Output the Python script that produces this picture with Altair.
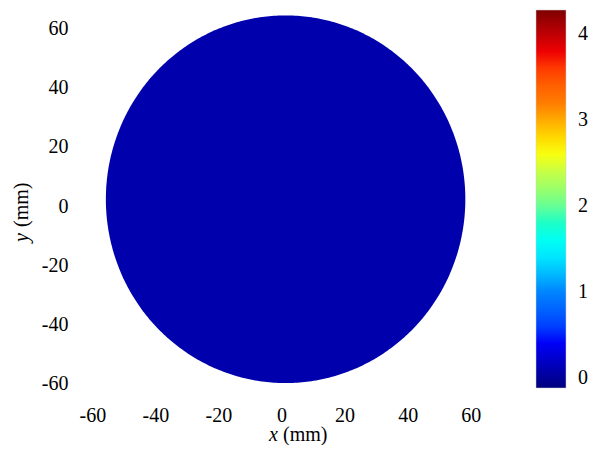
import numpy as np
import pandas as pd
import altair as alt

# ---- data ----
x_ticks = [-60, -40, -20, 0, 20, 40, 60]
y_ticks = [-60, -40, -20, 0, 20, 40, 60]
cbar_ticks = [0, 1, 2, 3, 4]
cbar_min, cbar_max = -0.12, 4.28
jet_colors = ["#00007F", "#0000FF", "#007FFF", "#00FFFF", "#7FFF7F",
              "#FFFF00", "#FF7F00", "#FF0000", "#7F0000"]
disc_center_x, disc_center_y = 1.3, 2.3
disc_radius_x, disc_radius_y = 57.0, 62.2
disc_value = 0.08

# disc outline (upper / lower boundary of the measured region)
t = np.linspace(np.pi, 0, 241)
xs = disc_center_x + disc_radius_x * np.cos(t)
half = disc_radius_y * np.sin(t)
disc = pd.DataFrame({
    "x": xs,
    "ylo": disc_center_y - half,
    "yhi": disc_center_y + half,
    "v": disc_value,
})

color_domain = list(np.linspace(cbar_min, cbar_max, len(jet_colors)))

W, H = 391, 396
serif = "'Times New Roman', 'Liberation Serif', 'DejaVu Serif', serif"
lab = "'' + datum.value"

xscale = alt.Scale(domain=[-62, 62], nice=False, zero=False)
yscale = alt.Scale(domain=[-68, 66], nice=False, zero=False)

area = alt.Chart(disc).mark_area(interpolate="linear").encode(
    x=alt.X("x:Q", scale=xscale,
            axis=alt.Axis(values=x_ticks, title=None, labelPadding=-2,
                          labelExpr=lab, labelFont=serif, labelFontSize=20)),
    y=alt.Y("ylo:Q", scale=yscale,
            axis=alt.Axis(values=y_ticks, title=None, labelPadding=18,
                          labelExpr=lab, labelFont=serif, labelFontSize=20)),
    y2="yhi:Q",
    color=alt.Color(
        "v:Q",
        scale=alt.Scale(domain=color_domain, range=jet_colors, type="linear"),
        legend=alt.Legend(
            title=None, orient="none", legendX=450, legendY=-1,
            direction="vertical", gradientLength=378, gradientThickness=30,
            values=cbar_ticks, labelFont=serif, labelFontSize=20,
            labelColor="black", labelOffset=12, padding=0,
            gradientStrokeColor="#cccccc", gradientStrokeWidth=0.5,
            labelOverlap=False,
        ),
    ),
)

titles = pd.DataFrame({"k": [0]})
tx_x = alt.Chart(titles).mark_text(
    text="x", font=serif, fontSize=20, fontStyle="italic",
    align="right", baseline="middle", color="black",
).encode(x=alt.value(192), y=alt.value(424))
tx_mm = alt.Chart(titles).mark_text(
    text="(mm)", font=serif, fontSize=20,
    align="left", baseline="middle", color="black",
).encode(x=alt.value(197), y=alt.value(424))
ty_y = alt.Chart(titles).mark_text(
    text="y", font=serif, fontSize=20, fontStyle="italic", angle=270,
    align="right", baseline="middle", color="black",
).encode(x=alt.value(-64), y=alt.value(222))
ty_mm = alt.Chart(titles).mark_text(
    text="(mm)", font=serif, fontSize=20, angle=270,
    align="left", baseline="middle", color="black",
).encode(x=alt.value(-64), y=alt.value(216))

chart = alt.layer(area, tx_x, tx_mm, ty_y, ty_mm).properties(
    width=W, height=H,
    autosize=alt.AutoSizeParams(type="none"),
    padding={"left": 78, "top": 3, "right": 117, "bottom": 38},
).configure(font=serif).configure_view(stroke=None).configure_axis(
    domain=False, ticks=False, grid=False,
    labelFont=serif, labelFontSize=20, labelColor="black",
).configure_legend(labelFont=serif)

chart.save("out.html", embed_options={"renderer": "svg", "actions": False})
